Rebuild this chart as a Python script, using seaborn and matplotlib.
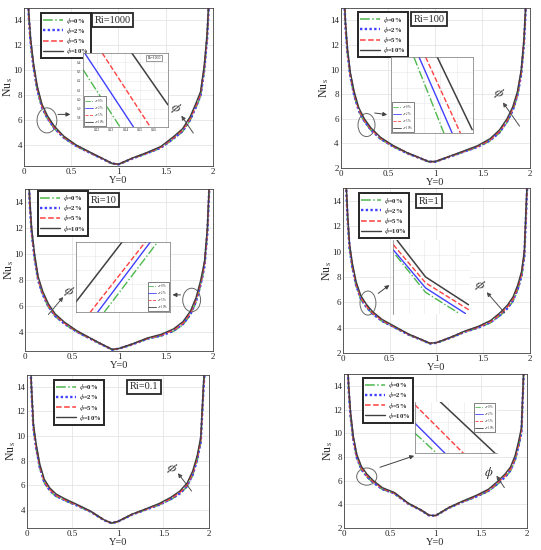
import numpy as np
import pandas as pd
import seaborn as sns
import matplotlib.pyplot as plt
from matplotlib.patches import Ellipse
from matplotlib.lines import Line2D

sns.set_style("whitegrid")
plt.rcParams['font.family'] = ['Liberation Serif', 'DejaVu Serif']
plt.rcParams['mathtext.fontset'] = 'stix'

# position along the wall
X_POS = [0.03, 0.05, 0.07, 0.1, 0.14, 0.19, 0.25, 0.32, 0.42, 0.55, 0.7, 0.85, 0.93,
         1.0, 1.15, 1.3, 1.45, 1.58, 1.68, 1.76, 1.82, 1.87, 1.91, 1.94, 1.97]

PHI_LABELS = [r'$\phi$=0%', r'$\phi$=2%', r'$\phi$=5%', r'$\phi$=10%']

# Nu_s for phi = 0, 2, 5, 10 %
NU_RI1000 = [
    [18.0, 14.2, 12.1, 10.2, 8.4, 7.0, 6.1, 5.35, 4.6, 3.95, 3.4, 2.85, 2.55, 2.47, 2.95, 3.35, 3.8, 4.5, 5.1, 6.0, 7.0, 7.9, 10.0, 12.5, 17.0],
    [18.12, 14.3, 12.19, 10.28, 8.47, 7.06, 6.15, 5.39, 4.63, 3.97, 3.41, 2.86, 2.56, 2.48, 2.96, 3.37, 3.82, 4.54, 5.15, 6.06, 7.07, 7.98, 10.09, 12.6, 17.12],
    [18.3, 14.45, 12.32, 10.4, 8.58, 7.15, 6.22, 5.45, 4.68, 4.0, 3.43, 2.87, 2.57, 2.49, 2.98, 3.39, 3.86, 4.59, 5.22, 6.15, 7.18, 8.1, 10.22, 12.75, 17.3],
    [18.6, 14.7, 12.55, 10.6, 8.75, 7.3, 6.35, 5.55, 4.75, 4.05, 3.46, 2.89, 2.58, 2.5, 3.0, 3.43, 3.92, 4.68, 5.34, 6.3, 7.35, 8.3, 10.45, 13.0, 17.6],
]
NU_RI100 = [
    [16.5, 13.3, 11.3, 9.4, 7.9, 6.6, 5.75, 5.05, 4.35, 3.75, 3.2, 2.75, 2.5, 2.5, 2.9, 3.3, 3.7, 4.2, 4.85, 5.7, 6.6, 7.8, 9.5, 12.0, 16.5],
    [16.62, 13.4, 11.39, 9.48, 7.97, 6.66, 5.8, 5.09, 4.38, 3.77, 3.21, 2.76, 2.51, 2.51, 2.91, 3.32, 3.72, 4.24, 4.9, 5.76, 6.67, 7.88, 9.59, 12.1, 16.62],
    [16.8, 13.55, 11.52, 9.6, 8.08, 6.75, 5.87, 5.15, 4.43, 3.8, 3.23, 2.77, 2.52, 2.52, 2.93, 3.34, 3.76, 4.29, 4.97, 5.85, 6.78, 8.0, 9.72, 12.25, 16.8],
    [17.1, 13.8, 11.75, 9.8, 8.25, 6.9, 6.0, 5.25, 4.5, 3.85, 3.26, 2.79, 2.53, 2.53, 2.95, 3.38, 3.82, 4.38, 5.09, 6.0, 6.95, 8.2, 9.95, 12.5, 17.1],
]
NU_RI10 = [
    [17.5, 13.8, 11.6, 9.7, 7.9, 6.8, 5.9, 5.2, 4.6, 4.0, 3.45, 2.9, 2.62, 2.7, 3.05, 3.45, 3.7, 4.05, 4.55, 5.3, 6.3, 7.6, 9.0, 11.5, 16.5],
    [17.62, 13.9, 11.69, 9.78, 7.97, 6.86, 5.95, 5.24, 4.63, 4.02, 3.46, 2.91, 2.63, 2.71, 3.06, 3.47, 3.72, 4.09, 4.6, 5.36, 6.37, 7.68, 9.09, 11.6, 16.62],
    [17.8, 14.05, 11.82, 9.9, 8.08, 6.95, 6.02, 5.3, 4.68, 4.05, 3.48, 2.92, 2.64, 2.72, 3.08, 3.49, 3.76, 4.14, 4.67, 5.45, 6.48, 7.8, 9.22, 11.75, 16.8],
    [18.1, 14.3, 12.05, 10.1, 8.25, 7.1, 6.15, 5.4, 4.75, 4.1, 3.51, 2.94, 2.65, 2.73, 3.1, 3.53, 3.82, 4.23, 4.79, 5.6, 6.65, 8.0, 9.45, 12.0, 17.1],
]
NU_RI1 = [
    [15.5, 12.4, 10.2, 8.7, 7.3, 6.25, 5.6, 5.05, 4.5, 4.02, 3.45, 3.0, 2.75, 2.8, 3.2, 3.65, 4.0, 4.4, 4.95, 5.5, 6.1, 7.0, 8.0, 9.6, 15.0],
    [15.62, 12.5, 10.29, 8.78, 7.37, 6.31, 5.65, 5.09, 4.53, 4.04, 3.46, 3.01, 2.76, 2.81, 3.21, 3.67, 4.02, 4.44, 5.0, 5.56, 6.17, 7.08, 8.09, 9.7, 15.12],
    [15.8, 12.65, 10.42, 8.9, 7.48, 6.4, 5.72, 5.15, 4.58, 4.07, 3.48, 3.02, 2.77, 2.82, 3.23, 3.69, 4.06, 4.49, 5.07, 5.65, 6.28, 7.2, 8.22, 9.85, 15.3],
    [16.1, 12.9, 10.65, 9.1, 7.65, 6.55, 5.85, 5.25, 4.65, 4.12, 3.51, 3.04, 2.78, 2.83, 3.25, 3.73, 4.12, 4.58, 5.19, 5.8, 6.45, 7.4, 8.45, 10.1, 15.6],
]
NU_RI01 = [
    [17.0, 13.5, 10.6, 9.0, 7.4, 6.2, 5.55, 5.1, 4.75, 4.35, 3.85, 3.15, 2.92, 3.05, 3.6, 4.0, 4.4, 4.85, 5.3, 5.9, 6.8, 8.0, 9.5, 13.8, 17.0],
    [17.12, 13.6, 10.69, 9.08, 7.47, 6.26, 5.6, 5.14, 4.78, 4.37, 3.86, 3.16, 2.93, 3.06, 3.61, 4.02, 4.42, 4.89, 5.35, 5.96, 6.87, 8.08, 9.59, 13.9, 17.12],
    [17.3, 13.75, 10.82, 9.2, 7.58, 6.35, 5.67, 5.2, 4.83, 4.4, 3.88, 3.17, 2.94, 3.07, 3.63, 4.04, 4.46, 4.94, 5.42, 6.05, 6.98, 8.2, 9.72, 14.05, 17.3],
    [17.6, 14.0, 11.05, 9.4, 7.75, 6.5, 5.8, 5.3, 4.9, 4.45, 3.91, 3.19, 2.95, 3.08, 3.65, 4.08, 4.52, 5.03, 5.54, 6.2, 7.15, 8.4, 9.95, 14.3, 17.6],
]
NU_LAST = [
    [17.0, 13.6, 11.4, 9.4, 7.85, 6.9, 6.3, 5.8, 5.25, 4.9, 4.05, 3.45, 3.05, 3.02, 3.7, 4.2, 4.65, 5.1, 5.7, 6.25, 6.8, 7.7, 8.9, 10.0, 16.0],
    [17.12, 13.7, 11.49, 9.48, 7.92, 6.96, 6.35, 5.84, 5.28, 4.92, 4.06, 3.46, 3.06, 3.03, 3.71, 4.22, 4.67, 5.14, 5.75, 6.31, 6.87, 7.78, 8.99, 10.1, 16.12],
    [17.3, 13.85, 11.62, 9.6, 8.03, 7.05, 6.42, 5.9, 5.33, 4.95, 4.08, 3.47, 3.07, 3.04, 3.73, 4.24, 4.71, 5.19, 5.82, 6.4, 6.98, 7.9, 9.12, 10.25, 16.3],
    [17.6, 14.1, 11.85, 9.8, 8.2, 7.2, 6.55, 6.0, 5.4, 5.0, 4.11, 3.49, 3.08, 3.05, 3.75, 4.28, 4.77, 5.28, 5.94, 6.55, 7.15, 8.1, 9.35, 10.5, 16.6],
]

# zoomed insets: one (x, y) pair of lists per phi
INSET_RI1000 = [([0.21, 0.2362], [6.322, 5.7]), ([0.2112, 0.2457], [6.5, 5.7]),
                ([0.2236, 0.2576], [6.5, 5.7]), ([0.2445, 0.27], [6.5, 5.94])]
INSET_RI100 = [([0.28, 0.645], [1, 0]), ([0.343, 0.746], [1, 0]),
               ([0.423, 0.847], [1, 0]), ([0.565, 0.99], [1, 0.045])]
INSET_RI10 = [([0.298, 0.867], [0, 1]), ([0.228, 0.79], [0, 1]),
              ([0.15, 0.737], [0, 1]), ([0.0, 0.49], [0.15, 1])]
INSET_RI1 = [([0.03, 0.42, 0.86], [0.8, 0.29, 0.0]), ([0.0, 0.42, 0.94], [0.87, 0.35, 0.0]),
             ([0.0, 0.42, 1.0], [0.94, 0.42, 0.04]), ([0.05, 0.42, 0.98], [1.0, 0.5, 0.12])]
INSET_LAST = [([0, 0.265], [0.387, 0]), ([0, 0.367], [0.58, 0]),
              ([0, 0.592], [0.935, 0]), ([0.306, 0.98], [1, 0])]

COLORS = [(0.3, 0.72, 0.3), (0.25, 0.25, 1.0), (1.0, 0.25, 0.25), (0.25, 0.25, 0.25)]
MAIN_LS = ['-.', (0, (1, 1)), '--', '-']
MAIN_LW = [1.1, 1.7, 1.1, 1.0]
INSET_LS = ['-.', '-', '--', '-']

panels = [
    dict(nu=NU_RI1000, ri='Ri=1000', pos=[0.0444, 0.698, 0.349, 0.288], ylim=(2.35, 15),
         leg=(0.09, 0.965), ri_xy=(0.47, 0.92),
         ell=(0.243, 6.0, 0.21, 2.0), arr=((0.33, 6.48), (0.52, 6.48)),
         phi=((1.81, 4.8), (1.65, 6.56), (1.6, 7.0), -35),
         ins=INSET_RI1000, ins_pos=[0.1534, 0.769, 0.157, 0.1345]),
    dict(nu=NU_RI100, ri='Ri=100', pos=[0.630, 0.6945, 0.349, 0.291], ylim=(2, 15),
         leg=(0.09, 0.973), ri_xy=(0.466, 0.93),
         ell=(0.272, 5.49, 0.18, 1.87), arr=((0.33, 6.5), (0.52, 6.3)),
         phi=((1.91, 5.22), (1.70, 7.51), (1.665, 8.06), -35),
         ins=INSET_RI100, ins_pos=[0.7227, 0.758, 0.1516, 0.138]),
    dict(nu=NU_RI10, ri='Ri=10', pos=[0.0462, 0.362, 0.3475, 0.2945], ylim=(2.54, 15),
         leg=(0.07, 0.988), ri_xy=(0.418, 0.93),
         ell=(1.773, 6.46, 0.19, 1.8), arr=((1.684, 6.85), (1.54, 6.85)),
         phi=((0.23, 5.18), (0.426, 6.85), (0.46, 7.1), -35),
         ins=INSET_RI10, ins_pos=[0.1405, 0.432, 0.174, 0.128]),
    dict(nu=NU_RI1, ri='Ri=1', pos=[0.634, 0.358, 0.3456, 0.2995], ylim=(2, 15),
         leg=(0.086, 0.97), ri_xy=(0.46, 0.923),
         ell=(0.267, 5.95, 0.17, 1.9), arr=((0.353, 6.58), (0.52, 7.5)),
         phi=((1.75, 5.0), (1.518, 6.97), (1.458, 7.37), -35),
         ins=INSET_RI1, ins_pos=[0.727, 0.43, 0.1418, 0.133]),
    dict(nu=NU_RI01, ri='Ri=0.1', pos=[0.0499, 0.04, 0.3364, 0.279], ylim=(2.54, 15),
         leg=(0.148, 0.965), ri_xy=(0.643, 0.92),
         ell=None, arr=None,
         phi=((1.827, 5.36), (1.64, 7.17), (1.59, 7.39), -35),
         ins=None, ins_pos=None),
    dict(nu=NU_LAST, ri=None, pos=[0.636, 0.04, 0.338, 0.28], ylim=(2, 15),
         leg=(0.104, 0.974), ri_xy=None,
         ell=(0.248, 6.34, 0.22, 1.45), arr=((0.364, 7.05), (0.795, 8.17)),
         phi=((1.77, 5.21), (1.65, 6.62), (1.577, 6.62), 0),
         ins=INSET_LAST, ins_pos=[0.767, 0.176, 0.151, 0.094]),
]

fig = plt.figure(figsize=(5.41, 5.5), dpi=100)
fig.patch.set_facecolor('white')


def style_frame(ax, lw=0.6, col='0.25'):
    for s in ax.spines.values():
        s.set_color(col)
        s.set_linewidth(lw)
    ax.grid(True, color='0.88', linewidth=0.5)


for k, p in enumerate(panels):
    ax = fig.add_axes(p['pos'])
    ax.set_facecolor('white')
    for i in range(4):
        sns.lineplot(x=X_POS, y=p['nu'][i], ax=ax, color=COLORS[i], linestyle=MAIN_LS[i],
                     linewidth=MAIN_LW[i], label=PHI_LABELS[i], legend=False)
    ax.set_xlim(0, 2)
    ax.set_ylim(*p['ylim'])
    ax.set_xticks([0, 0.5, 1, 1.5, 2])
    ax.set_xticklabels(['0', '0.5', '1', '1.5', '2'])
    ax.set_yticks([t for t in range(2, 15, 2) if t >= p['ylim'][0]])
    ax.tick_params(labelsize=6.5, direction='in', length=2, pad=1.5)
    style_frame(ax)
    ax.set_xlabel('Y=0', fontsize=7.5, labelpad=0)
    ax.set_ylabel(r'Nu$_{\,\mathrm{s}}$', fontsize=8.5)
    ax.yaxis.set_label_coords(-0.05, 0.5)

    handles = [Line2D([], [], color=COLORS[i], linestyle=MAIN_LS[i], linewidth=MAIN_LW[i])
               for i in range(4)]
    leg = ax.legend(handles, PHI_LABELS, loc='upper left', bbox_to_anchor=p['leg'],
                    borderaxespad=0, handlelength=3.0, handletextpad=0.4,
                    labelspacing=0.02, borderpad=0.35, fancybox=False, framealpha=1,
                    edgecolor='0.15', prop={'weight': 'bold', 'size': 4.8})
    leg.get_frame().set_linewidth(1.4)

    if p['ri']:
        ax.text(p['ri_xy'][0], p['ri_xy'][1], p['ri'], transform=ax.transAxes,
                fontsize=7.5, ha='center', va='center',
                bbox=dict(boxstyle='square,pad=0.25', fc='white', ec='0.15', lw=1.3))

    if p['ell']:
        cx, cy, w, h = p['ell']
        ax.add_patch(Ellipse((cx, cy), w, h, fill=False, ec='0.4', lw=0.7))
        ax.annotate('', xy=p['arr'][1], xytext=p['arr'][0],
                    arrowprops=dict(arrowstyle='-|>', color='0.25', lw=0.7,
                                    mutation_scale=6))
    st, en, tx, rot = p['phi']
    ax.annotate('', xy=en, xytext=st,
                arrowprops=dict(arrowstyle='-|>', color='0.3', lw=0.7, mutation_scale=6))
    ax.text(tx[0], tx[1], r'$\phi$', fontsize=9, rotation=rot, ha='center', va='center')

    if p['ins'] is None:
        continue
    ia = fig.add_axes(p['ins_pos'])
    ia.set_facecolor('white')
    for i, (xs, ys) in enumerate(p['ins']):
        sns.lineplot(x=xs, y=ys, ax=ia, color=COLORS[i], linestyle=INSET_LS[i],
                     linewidth=1.0 if i < 3 else 1.1, legend=False, sort=False)
    style_frame(ia, lw=0.5, col='0.45')
    ia.grid(True, color='0.9', linewidth=0.4)
    ia.tick_params(direction='in', length=1, labelsize=2.5, pad=1)
    if k == 0:
        ia.set_xlim(0.21, 0.27)
        ia.set_ylim(5.7, 6.5)
        ia.set_xticks([0.22, 0.23, 0.24, 0.25, 0.26])
        ia.set_yticks([5.8, 5.9, 6.0, 6.1, 6.2, 6.3, 6.4])
        ia.text(0.84, 0.93, 'Ri=1000', transform=ia.transAxes, fontsize=2.8,
                ha='center', va='center',
                bbox=dict(boxstyle='square,pad=0.3', fc='white', ec='0.3', lw=0.4))
    else:
        ia.set_xlim(0, 1)
        ia.set_ylim(0, 1)
        ia.set_xticks([0.2, 0.4, 0.6, 0.8])
        ia.set_yticks([0.2, 0.4, 0.6, 0.8])
        ia.set_xticklabels([])
        ia.set_yticklabels([])
    if k == 3:
        for s in ['top', 'right', 'bottom']:
            ia.spines[s].set_visible(False)
    if k == 5:
        for s in ['top', 'right']:
            ia.spines[s].set_visible(False)
    if k == 3:
        continue
    ih = [Line2D([], [], color=COLORS[i], linestyle=INSET_LS[i], linewidth=0.6)
          for i in range(4)]
    loc = {0: 'lower left', 1: 'lower left', 2: 'lower right', 5: 'upper right'}[k]
    il = ia.legend(ih, PHI_LABELS, loc=loc, handlelength=2.6, handletextpad=0.3,
                   labelspacing=0.0, borderpad=0.25, fancybox=False, framealpha=1,
                   edgecolor='0.3', borderaxespad=0.4, prop={'size': 2.2})
    il.get_frame().set_linewidth(0.5)

fig.savefig('out.png', dpi=100)
